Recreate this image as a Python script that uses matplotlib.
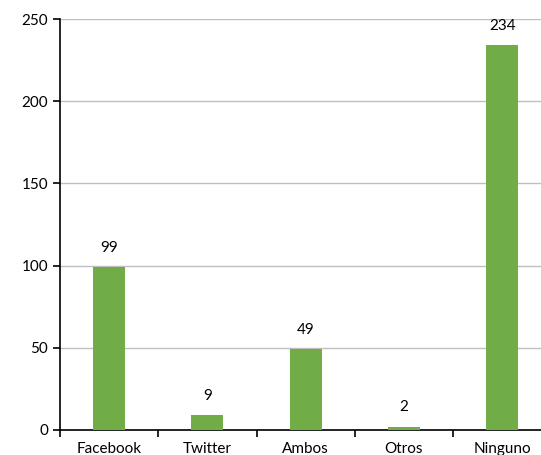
import matplotlib
matplotlib.use("Agg")
import matplotlib.pyplot as plt
import numpy as np

categories = ["Facebook", "Twitter", "Ambos", "Otros", "Ninguno"]
values = [99, 9, 49, 2, 234]
yticks = [0, 50, 100, 150, 200, 250]

plt.rcParams['font.family'] = ['Lato', 'DejaVu Sans']

fig = plt.figure(figsize=(5.41, 4.55), dpi=100)
# the plot area runs a little past the right edge of the image, as in the original
ax = fig.add_axes([0.111, 0.055, 0.908, 0.903])

x = np.arange(len(categories))
ax.bar(x, values, width=0.325, color="#70AD47", zorder=3)

for xi, v in zip(x, values):
    ax.annotate(str(v), (xi, v), xytext=(0, 9), textcoords="offset points",
                ha="center", va="bottom", fontsize=11, color="black")

ax.set_xlim(-0.5, len(categories) - 0.5)
ax.set_ylim(0, 250)
ax.set_yticks(yticks)
ax.set_xticks(x)
ax.set_xticklabels(categories, fontsize=11)
ax.tick_params(axis="y", labelsize=11, length=5, direction="out", width=1.2)
ax.tick_params(axis="x", length=0, pad=9)
# boundary ticks between categories
ax.set_xticks(np.arange(-0.5, len(categories)), minor=True)
ax.tick_params(axis="x", which="minor", length=5, direction="out", width=1.2)

ax.grid(axis="y", color="#bfbfbf", linewidth=1, zorder=0)
for s in ["top", "right"]:
    ax.spines[s].set_visible(False)
ax.spines["left"].set_linewidth(1.2)
ax.spines["bottom"].set_linewidth(1.2)

fig.savefig("out.png", dpi=100)
